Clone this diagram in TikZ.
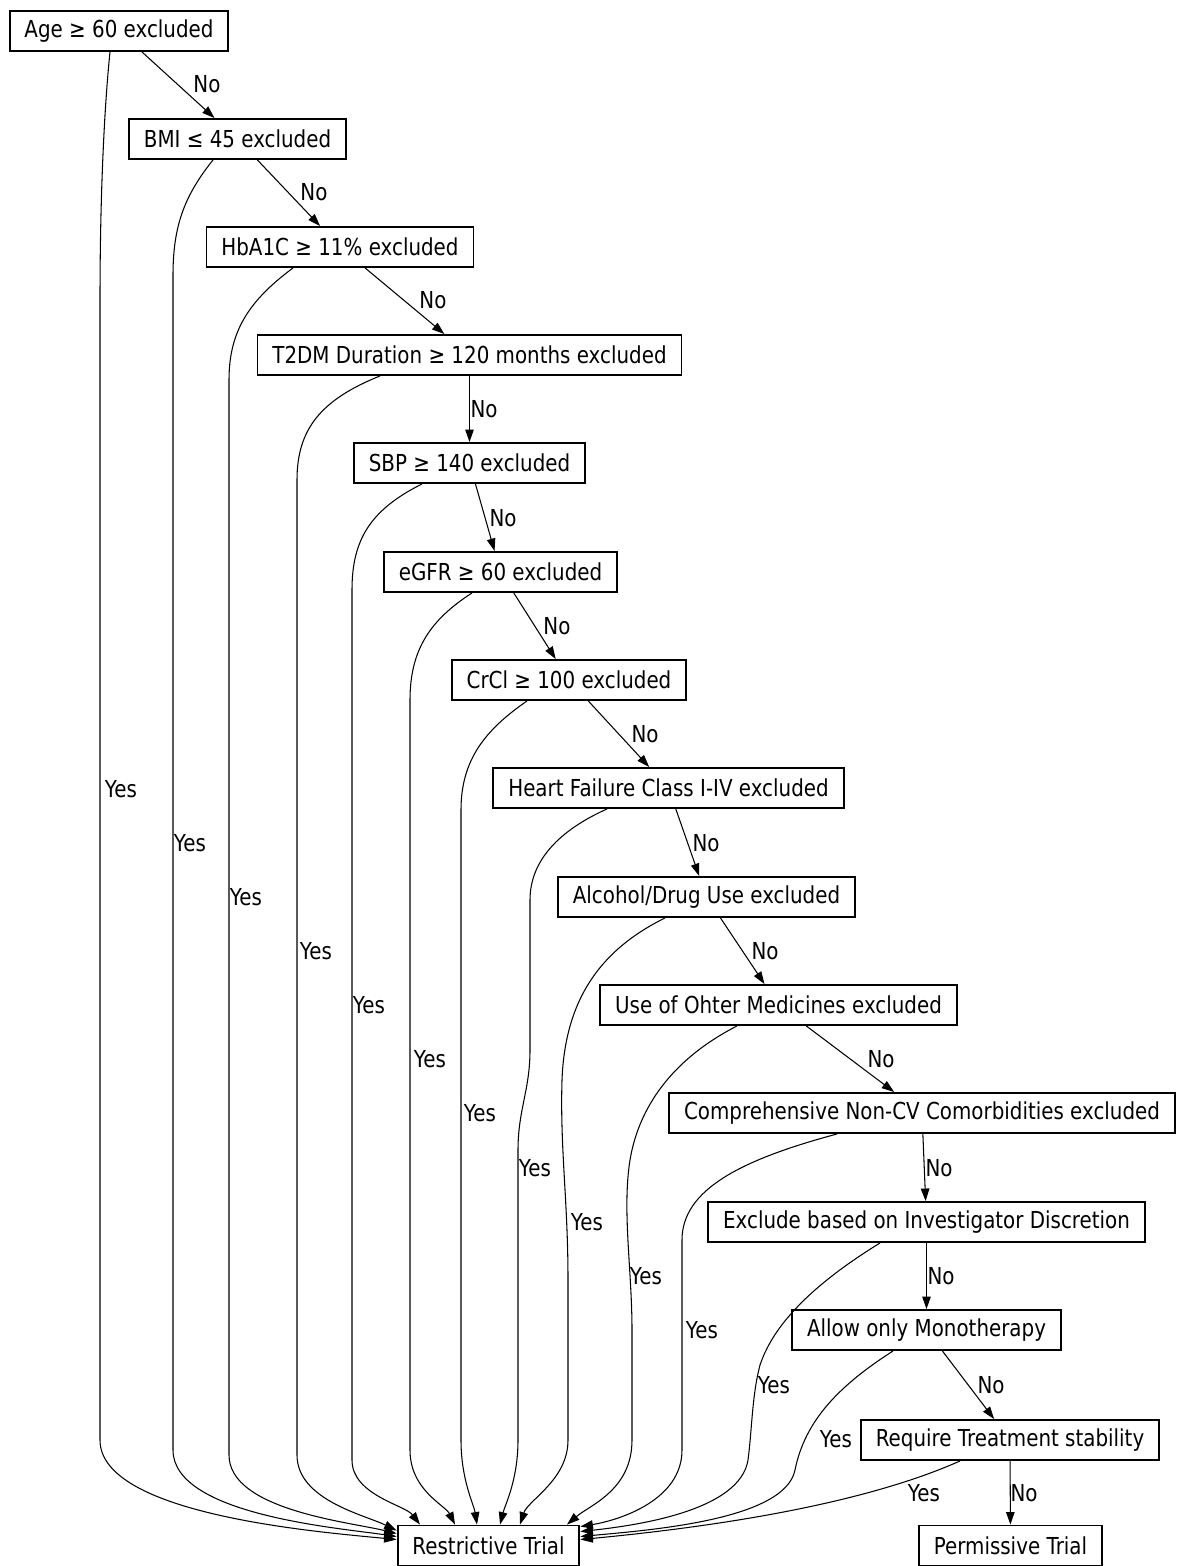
\documentclass[tikz,border=0pt]{standalone}
\usepackage{fontspec}
\setmainfont{DejaVu Sans}[FakeStretch=0.85]
\usepackage{tikz}
\usetikzlibrary{arrows.meta,calc}

\begin{document}
\begin{tikzpicture}[
    x=0.02cm, y=-0.02cm,
    font=\fontsize{13.3}{15}\selectfont,
    box/.style={rectangle, draw=black, line width=1.1pt, fill=white,
      minimum height=0.8cm, inner xsep=8.5pt, inner ysep=2pt},
    arr/.style={-{Triangle[length=2.5mm, width=1.7mm]}, line width=0.6pt, black},
    lab/.style={inner sep=1pt}
  ]
    \useasboundingbox (0,0) rectangle (1184,1566);
    % criteria, one per rank
    \node[box] (age)    at (119,31)    {Age ≥ 60 excluded};
    \node[box] (bmi)    at (237.5,139) {BMI ≤ 45 excluded};
    \node[box] (hba)    at (340,247)   {HbA1C ≥ 11\% excluded};
    \node[box] (t2dm)   at (469.5,355) {T2DM Duration ≥ 120 months excluded};
    \node[box] (sbp)    at (469.5,463) {SBP ≥ 140 excluded};
    \node[box] (egfr)   at (500.5,572) {eGFR ≥ 60 excluded};
    \node[box] (crcl)   at (569,680)   {CrCl ≥ 100 excluded};
    \node[box] (hf)     at (668.5,788) {Heart Failure Class I-IV excluded};
    \node[box] (alc)    at (706.5,897) {Alcohol/Drug Use excluded};
    \node[box] (meds)   at (778.5,1005) {Use of Ohter Medicines excluded};
    \node[box] (comorb) at (922,1113)  {Comprehensive Non-CV Comorbidities excluded};
    \node[box] (discr)  at (926.5,1222) {Exclude based on Investigator Discretion};
    \node[box] (mono)   at (926.5,1330) {Allow only Monotherapy};
    \node[box] (stab)   at (1010,1440) {Require Treatment stability};
    \node[box] (restr)  at (488.5,1545.5) {Restrictive Trial};
    \node[box] (perm)   at (1010.5,1545.5) {Permissive Trial};

    % No chain
    \draw[arr] (age) -- (bmi);
    \draw[arr] (bmi) -- (hba);
    \draw[arr] (hba) -- (t2dm);
    \draw[arr] (t2dm) -- (sbp);
    \draw[arr] (sbp) -- (egfr);
    \draw[arr] (egfr) -- (crcl);
    \draw[arr] (crcl) -- (hf);
    \draw[arr] (hf) -- (alc);
    \draw[arr] (alc) -- (meds);
    \draw[arr] (meds) -- (comorb);
    \draw[arr] (comorb) -- (discr);
    \draw[arr] (discr) -- (mono);
    \draw[arr] (mono) -- (stab);
    \draw[arr] (stab) -- (perm);

    % Yes edges into the restrictive trial
    \draw[arr] ($(age.south)+(-9,0)$) .. controls (104,110) and (100,200) .. (100,300)
      -- (100,1440) .. controls (100,1515) and (320,1532) .. ($(restr.north west)+(0,15)$);
    \draw[arr] ($(bmi.south)+(-24.5,0)$) .. controls (185,195) and (173,225) .. (173,275)
      -- (173,1450) .. controls (173,1515) and (340,1528) .. ($(restr.north west)+(0,12)$);
    \draw[arr] ($(hba.south)+(-47,0)$) .. controls (250,300) and (229,330) .. (229,380)
      -- (229,1455) .. controls (229,1510) and (350,1522) .. ($(restr.north west)+(0,9)$);
    \draw[arr] ($(t2dm.south)+(-89.5,0)$) .. controls (320,400) and (297,430) .. (297,480)
      -- (297,1455) .. controls (297,1500) and (365,1515) .. ($(restr.north west)+(0,6)$);
    \draw[arr] ($(sbp.south)+(-47.5,0)$) .. controls (370,510) and (352,540) .. (352,590)
      -- (352,1460) .. controls (352,1495) and (405,1505) .. ($(restr.north)+(-68.5,0)$);
    \draw[arr] ($(egfr.south)+(-28.5,0)$) .. controls (430,620) and (410,650) .. (410,700)
      -- (410,1450) .. controls (410,1490) and (445,1505) .. ($(restr.north)+(-33.5,0)$);
    \draw[arr] ($(crcl.south)+(-42,0)$) .. controls (485,730) and (461,760) .. (461,810)
      -- (461,1440) .. controls (461,1480) and (474,1505) .. ($(restr.north)+(-11.5,0)$);
    \draw[arr] ($(hf.south)+(-61.5,0)$) .. controls (560,830) and (530,860) .. (530,900)
      -- (530,1050) .. controls (530,1090) and (518,1110) .. (518,1150)
      -- (518,1440) .. controls (518,1480) and (505,1505) .. ($(restr.north)+(11.5,0)$);
    \draw[arr] ($(alc.south)+(-41.5,0)$) .. controls (600,950) and (565,1000) .. (562,1080)
      .. controls (560,1150) and (568,1200) .. (568,1280)
      -- (568,1440) .. controls (568,1480) and (528,1500) .. ($(restr.north)+(31.5,0)$);
    \draw[arr] ($(meds.south)+(-41.5,0)$) .. controls (680,1055) and (640,1100) .. (630,1160)
      .. controls (622,1210) and (632,1270) .. (632,1330)
      -- (632,1440) .. controls (632,1490) and (590,1505) .. ($(restr.north)+(78.5,0)$);
    \draw[arr] ($(comorb.south)+(-85,0)$) .. controls (740,1160) and (682,1190) .. (682,1240)
      -- (682,1450) .. controls (682,1500) and (620,1520) .. ($(restr.north east)+(0,2)$);
    \draw[arr] ($(discr.south)+(-46.5,0)$) .. controls (820,1280) and (775,1320) .. (760,1365)
      .. controls (752,1395) and (752,1430) .. (748,1460)
      .. controls (740,1510) and (640,1525) .. ($(restr.north east)+(0,7)$);
    \draw[arr] ($(mono.south)+(-33.5,0)$) .. controls (840,1385) and (805,1420) .. (795,1470)
      .. controls (785,1520) and (650,1530) .. ($(restr.north east)+(0,12)$);
    \draw[arr] ($(stab.south)+(-50,0)$) .. controls (850,1510) and (680,1530) .. ($(restr.north east)+(0,15)$);

    % edge labels
    \foreach \k/\px/\py in {1/207/84, 2/314/192, 3/433/300, 4/484/409, 5/503/518,
        6/557/626, 7/645/734, 8/706/843, 9/765/951, 10/881/1059, 11/939/1168,
        12/941/1276, 13/991/1385, 14/1024/1493}
      \node[lab] (no\k) at (\px,\py) {No};
    \foreach \k/\px/\py in {1/121/789, 2/190/843, 3/246/897, 4/316/951, 5/369/1005,
        6/430/1059, 7/480/1113, 8/535/1168, 9/587/1222, 10/646/1276, 11/702/1330,
        12/774/1385, 13/836/1439, 14/924/1493}
      \node[lab] (yes\k) at (\px,\py) {Yes};
\end{tikzpicture}
\end{document}
